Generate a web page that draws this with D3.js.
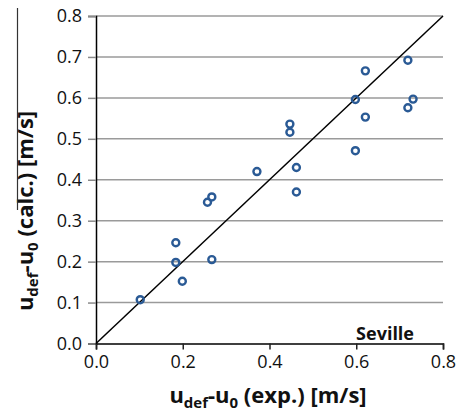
<!DOCTYPE html>
<html><head><meta charset="utf-8">
<script src="https://cdn.jsdelivr.net/npm/d3@7"></script>
<style>
html,body{margin:0;padding:0;background:#fff;}
svg{display:block;font-family:"Open Sans",sans-serif;}
</style></head>
<body>
<svg id="c" width="463" height="412"></svg>
<script>
const expVals  = [0.102,0.184,0.184,0.199,0.267,0.257,0.267,0.371,0.462,0.462,0.447,0.447,0.598,0.598,0.621,0.621,0.719,0.719,0.731];
const calcVals = [0.107,0.246,0.198,0.152,0.205,0.345,0.358,0.420,0.430,0.370,0.536,0.516,0.471,0.596,0.666,0.553,0.692,0.576,0.597];
const xTicks = [0,0.2,0.4,0.6,0.8];
const yTicks = [0,0.1,0.2,0.3,0.4,0.5,0.6,0.7,0.8];
const refLine = [[0,0],[0.8,0.8]];

const svg = d3.select("#c");
const x = d3.scaleLinear().domain([0,0.8]).range([96,443]);
const y = d3.scaleLinear().domain([0,0.8]).range([343.5,16]);

// gridlines
svg.append("g").selectAll("line").data(yTicks.filter(d=>d>0)).join("line")
  .attr("x1",x(0)).attr("x2",x(0.8))
  .attr("y1",d=>y(d)).attr("y2",d=>y(d))
  .attr("stroke","#9a9a9a").attr("stroke-width",1.5);

// y axis
const ya = svg.append("g").attr("transform",`translate(${x(0)},0)`)
  .call(d3.axisLeft(y).tickValues(yTicks).tickFormat(d3.format(".1f")).tickSize(8).tickPadding(6));
ya.select(".domain").attr("stroke","#000").attr("stroke-width",1.5);
ya.selectAll(".tick line").attr("stroke","#8a8a8a").attr("stroke-width",1.5);
ya.selectAll("text").attr("font-size",18).attr("fill","#111").attr("font-family","Open Sans");

// x axis
const xa = svg.append("g").attr("transform",`translate(0,${y(0)})`)
  .call(d3.axisBottom(x).tickValues(xTicks).tickFormat(d3.format(".1f")).tickSize(6).tickPadding(6));
xa.select(".domain").attr("stroke","#000").attr("stroke-width",1.5);
xa.selectAll(".tick line").attr("stroke","#222").attr("stroke-width",1.5);
xa.selectAll("text").attr("font-size",18).attr("fill","#111").attr("font-family","Open Sans");

// 1:1 line
svg.append("path").datum(refLine)
  .attr("d",d3.line().x(d=>x(d[0])).y(d=>y(d[1])))
  .attr("stroke","#000").attr("stroke-width",1.5).attr("fill","none");

// points
svg.append("g").selectAll("circle").data(expVals.map((v,i)=>[v,calcVals[i]])).join("circle")
  .attr("cx",d=>x(d[0])).attr("cy",d=>y(d[1])).attr("r",3.5)
  .attr("fill","none").attr("stroke","#2a5a95").attr("stroke-width",2.4);

// Seville
svg.append("text").attr("x",414).attr("y",340).attr("text-anchor","end")
  .attr("font-size",18).attr("font-weight","bold").attr("fill","#111").text("Seville");

// x label
const xl = svg.append("text").attr("x",268).attr("y",403).attr("text-anchor","middle")
  .attr("font-size",22).attr("font-weight","bold").attr("fill","#111");
xl.append("tspan").text("u");
xl.append("tspan").attr("font-size",15).attr("dy",5).text("def");
xl.append("tspan").attr("dy",-5).text("-u");
xl.append("tspan").attr("font-size",15).attr("dy",5).text("0");
xl.append("tspan").attr("dy",-5).text(" (exp.) [m/s]");

// y label
const yl = svg.append("text").attr("transform","translate(33,211) rotate(-90)").attr("text-anchor","middle")
  .attr("font-size",22).attr("font-weight","bold").attr("fill","#111");
yl.append("tspan").text("u");
yl.append("tspan").attr("font-size",15).attr("dy",5).text("def");
yl.append("tspan").attr("dy",-5).text("-u");
yl.append("tspan").attr("font-size",15).attr("dy",5).text("0");
yl.append("tspan").attr("dy",-5).text(" (calc.) [m/s]");

// artifact line left of y label
svg.append("line").attr("x1",17.5).attr("x2",17.5).attr("y1",8).attr("y2",210)
  .attr("stroke","#333").attr("stroke-width",1.2);
</script>
</body></html>
